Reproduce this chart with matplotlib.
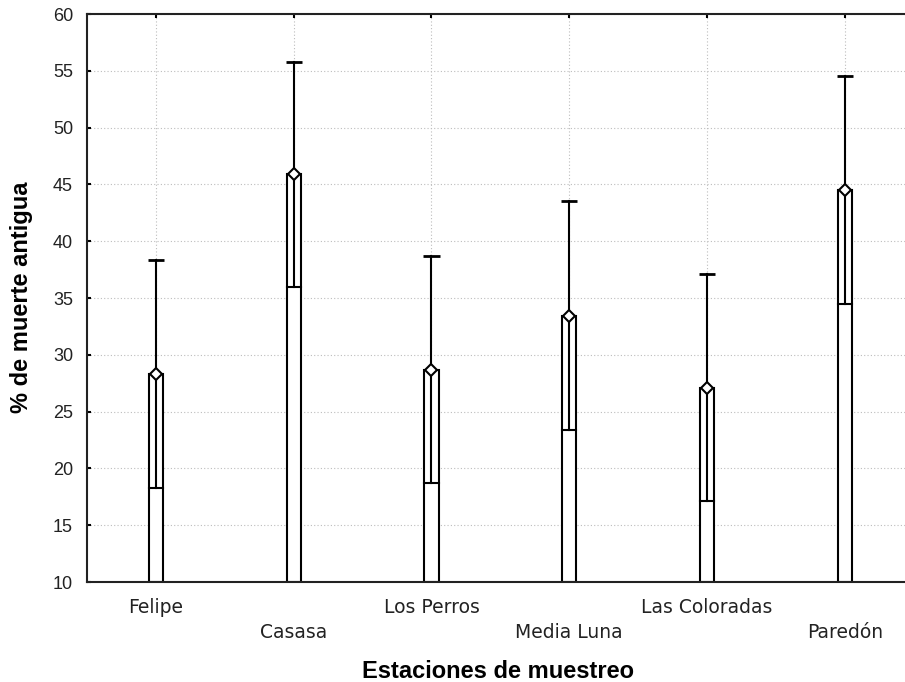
#!/usr/bin/env python

import numpy as np
import matplotlib
matplotlib.use('Agg')
import matplotlib.pyplot as plt
from matplotlib.patches import Rectangle

# estaciones y valores
estaciones = ['Felipe', 'Casasa', 'Los Perros', 'Media Luna', 'Las Coloradas', 'Paredón']
media    = [28.35, 45.95, 28.65, 33.45, 27.10, 44.50]
inferior = [18.30, 35.95, 18.70, 23.40, 17.10, 34.50]
superior = [38.35, 55.80, 38.70, 43.50, 37.10, 54.55]

y_ticks = np.arange(10, 61, 5)

fig = plt.figure(figsize=(9.05, 6.82), dpi=100)
ax = fig.add_axes([0.0961, 0.1466, 0.9136, 0.8328])

ax.set_xlim(-0.5, len(estaciones) - 0.5)
ax.set_ylim(10, 60)
base = ax.get_ylim()[0]

box_w = 0.102
cap_w = 0.118
lw = 1.5

x = np.arange(len(estaciones))
for xi, m, lo, hi in zip(x, media, inferior, superior):
  # caja desde la base hasta la media
  ax.add_patch(Rectangle((xi - box_w/2, base), box_w, m - base,
                         facecolor='white', edgecolor='black', lw=lw, zorder=2))
  ax.plot([xi - box_w/2, xi + box_w/2], [lo, lo], c='black', lw=lw, zorder=2.1)
  ax.plot([xi, xi], [lo, m], c='black', lw=lw, zorder=2.1)
  # bigote
  ax.plot([xi, xi], [m, hi], c='black', lw=lw, zorder=2.1)
  ax.plot([xi - cap_w/2, xi + cap_w/2], [hi, hi], c='black', lw=lw + 0.5,
          zorder=2.1, solid_capstyle='butt')
  ax.plot(xi, m, marker='D', ms=6.5, mfc='white', mec='black', mew=1.5,
          zorder=3, clip_on=False)

ax.set_xticks(x)
ax.set_xticklabels(estaciones, fontfamily='DejaVu Sans', fontsize=13.5, color='#222222')
ax.set_yticks(y_ticks)
ax.set_yticklabels([str(v) for v in y_ticks], fontfamily='Liberation Sans',
                   fontsize=13, color='#222222')

ax.tick_params(axis='x', direction='in', length=3, width=1.5, top=True, pad=11.5)
ax.tick_params(axis='y', direction='in', length=3, width=1.5, right=False, pad=10)
for i, tick in enumerate(ax.xaxis.get_major_ticks()):
  if i % 2 == 1:
    tick.set_pad(29.5)

ax.set_axisbelow(True)
ax.grid(which='major', color='#bdbdbd', lw=0.8, linestyle=(0, (1, 2)))

for sp in ax.spines.values():
  sp.set_linewidth(1.5)
  sp.set_color('#222222')

fig.text(0.0235, 0.5635, '% de muerte antigua', rotation=90, ha='center', va='center',
         fontfamily='Liberation Sans', fontweight='bold', fontsize=17)
fig.text(0.55, 0.006, 'Estaciones de muestreo', ha='center', va='baseline',
         fontfamily='Liberation Sans', fontweight='bold', fontsize=17)

fig.savefig('out.png', dpi=100)
